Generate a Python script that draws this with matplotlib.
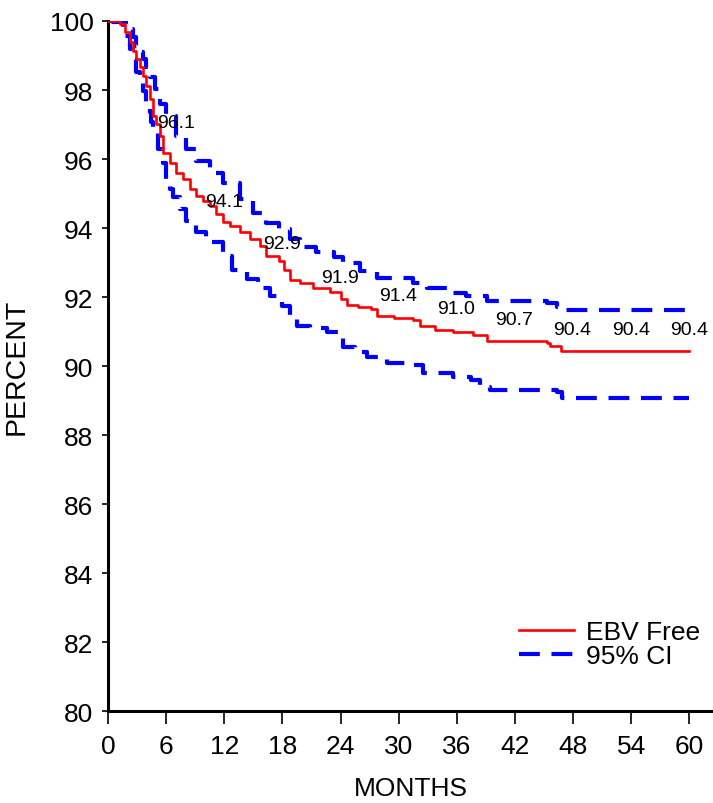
import matplotlib
matplotlib.use("Agg")
import matplotlib.pyplot as plt

# ---- data ----
km_t = [0, 1.19, 1.71, 2.22, 2.57, 2.91, 3.26, 3.6, 3.95, 4.29, 4.64, 4.98, 5.33,
        5.67, 6.36, 7.05, 7.74, 8.43, 9.12, 9.8, 10.5, 11.19, 11.87, 12.56, 13.6,
        14.63, 15.67, 16.36, 17.7, 18.2, 18.8, 19.8, 21.2, 22.9, 24.0, 24.7, 25.8,
        27.1, 27.8, 29.5, 31.5, 32.2, 33.8, 35.6, 37.7, 39.1, 45.3, 45.6, 46.8, 60]
km_v = [100, 99.91, 99.67, 99.38, 99.14, 98.9, 98.66, 98.41, 98.12, 97.74, 97.26,
        97.01, 96.68, 96.19, 95.9, 95.61, 95.42, 95.13, 94.94, 94.79, 94.65, 94.41,
        94.17, 94.07, 93.88, 93.68, 93.49, 93.2, 93.04, 92.8, 92.5, 92.4, 92.25,
        92.15, 91.95, 91.78, 91.72, 91.65, 91.45, 91.4, 91.33, 91.15, 91.05, 90.98,
        90.9, 90.72, 90.67, 90.58, 90.45, 90.45]

up_t = [0, 1.19, 1.88, 2.57, 2.91, 3.26, 3.6, 3.95, 4.29, 4.81, 5.33, 6.0, 7.05,
        8.09, 9.12, 10.5, 11.87, 13.6, 14.97, 16.35, 17.7, 18.77, 19.8, 21.5, 23.3,
        24.3, 26.0, 27.8, 31.5, 32.9, 35.0, 37.0, 39.1, 45.3, 46.3, 46.9, 60]
up_v = [100, 99.96, 99.77, 99.53, 99.28, 99.09, 98.9, 98.66, 98.37, 98.03, 97.6,
        97.26, 96.68, 96.29, 95.95, 95.61, 95.32, 94.84, 94.45, 94.16, 93.97, 93.68,
        93.45, 93.3, 93.15, 92.98, 92.77, 92.54, 92.4, 92.25, 92.12, 92.03, 91.9,
        91.82, 91.7, 91.62, 91.62]

lo_t = [0, 0.5, 1.53, 2.22, 2.57, 2.91, 3.26, 3.6, 3.95, 4.29, 4.47, 4.64, 5.15,
        5.67, 6.0, 6.36, 6.7, 7.39, 8.09, 9.12, 10.15, 11.87, 12.8, 14.3, 15.5,
        16.7, 18.0, 18.8, 19.5, 20.8, 22.6, 23.7, 24.3, 25.5, 26.7, 28.8, 31.5,
        32.5, 35.6, 37.5, 38.4, 39.4, 46.3, 46.9, 60]
lo_v = [100, 99.96, 99.57, 99.19, 98.9, 98.51, 98.22, 97.98, 97.64, 97.35, 97.06,
        96.77, 96.29, 95.9, 95.42, 95.13, 94.89, 94.55, 94.21, 93.88, 93.59, 93.2,
        92.8, 92.52, 92.25, 92.03, 91.74, 91.4, 91.16, 91.1, 91.0, 90.95, 90.55,
        90.4, 90.26, 90.09, 90.03, 89.8, 89.68, 89.6, 89.4, 89.3, 89.25, 89.08,
        89.08]

label_months = [6, 12, 18, 24, 30, 36, 42, 48, 54, 60]
label_values = [96.1, 94.1, 92.9, 91.9, 91.4, 91.0, 90.7, 90.4, 90.4, 90.4]

x_ticks = [0, 6, 12, 18, 24, 30, 36, 42, 48, 54, 60]
y_ticks = [80, 82, 84, 86, 88, 90, 92, 94, 96, 98, 100]

FONT = "Liberation Sans"
plt.rcParams["font.family"] = [FONT, "DejaVu Sans"]

fig = plt.figure(figsize=(7.13, 8.04), dpi=100)
ax = fig.add_axes([108 / 713, 91.7 / 804, 1 - 108 / 713, (712.3 - 22) / 804])

ax.plot(km_t, km_v, drawstyle="steps-post", color="#ff0000", lw=1.9,
        label="EBV Free", zorder=3)
ax.plot(up_t, up_v, drawstyle="steps-post", color="#0000ff", lw=3.0,
        dashes=(5, 2.8), label="95% CI", zorder=2)
ax.plot(lo_t, lo_v, drawstyle="steps-post", color="#0000ff", lw=3.0,
        dashes=(5, 2.8), zorder=2)

for m, v in zip(label_months, label_values):
    dx, dy = (1.0, 0.95) if m == 6 else (-0.05, 0.66)
    ax.text(m + dx, v + dy, f"{v:.1f}", ha="center", va="center",
            fontsize=14, color="black", zorder=4)

ax.set_xlim(0, 62.45)
ax.set_ylim(80, 100)
ax.set_xticks(x_ticks)
ax.set_yticks(y_ticks)
ax.tick_params(axis="x", length=9, width=1.2, labelsize=19, pad=7, direction="out")
ax.tick_params(axis="y", length=4.5, width=1.2, labelsize=19, pad=6, direction="out")

for s in ["top", "right"]:
    ax.spines[s].set_visible(False)
for s in ["left", "bottom"]:
    ax.spines[s].set_linewidth(2.2)

ax.set_xlabel("MONTHS", fontsize=19, labelpad=13)
ax.set_ylabel("PERCENT", fontsize=20.5, labelpad=14)

leg = ax.legend(loc="upper left", bbox_to_anchor=(519 / 713, (804 - 621) / 804),
                bbox_transform=fig.transFigure, frameon=False, borderpad=0,
                borderaxespad=0, handlelength=2.1, handletextpad=0.45,
                labelspacing=0.0, fontsize=19)

fig.savefig("out.png", dpi=100)
